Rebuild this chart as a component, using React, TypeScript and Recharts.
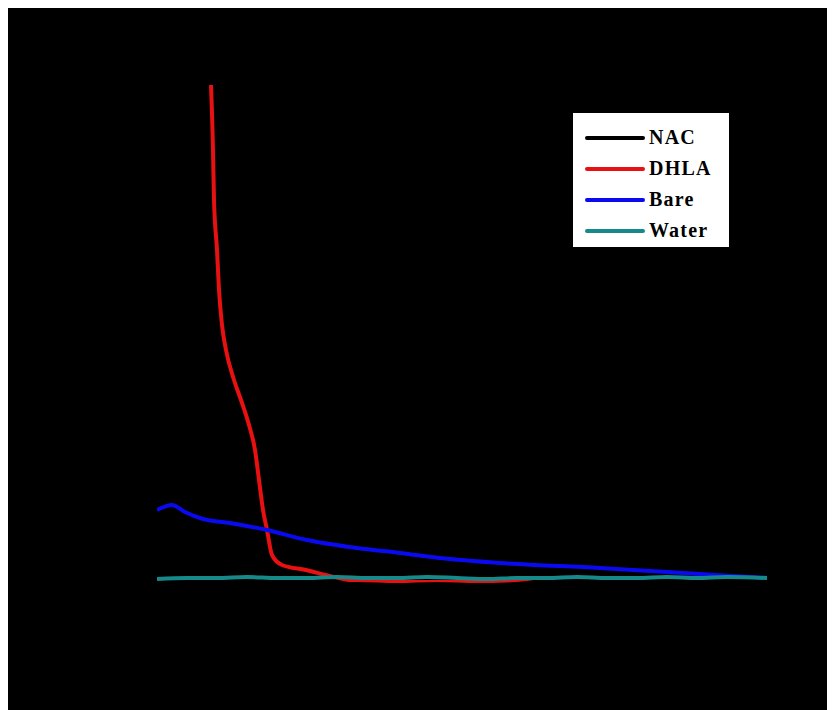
import React from "react";
import { LineChart, Line, XAxis, YAxis } from "recharts";

const seriesNames = ["NAC", "DHLA", "Bare", "Water"];
const seriesColors = ["#000000", "#e81010", "#0a0af0", "#168a8a"];
const drawOrder = [1, 0, 2, 3];

const nacX = [300, 340, 380, 420, 460, 500, 540, 580, 620, 650, 670, 685, 700, 730, 760, 790, 820, 850, 880, 910];
const nacY = [0.54, 0.54, 0.55, 0.54, 0.54, 0.55, 0.54, 0.55, 0.54, 0.545, 0.56, 0.58, 0.58, 0.58, 0.585, 0.585, 0.59, 0.59, 0.59, 0.59];

const dhlaX = [354, 356, 357, 360, 362, 365, 369, 377, 384, 392, 398, 402, 406, 410, 415, 425, 449, 469, 492, 542, 600, 700, 800, 910];
const dhlaY = [5.55, 4.9, 4.4, 3.9, 3.5, 3.15, 2.9, 2.6, 2.4, 2.15, 1.9, 1.6, 1.3, 1.1, 0.85, 0.75, 0.7, 0.65, 0.6, 0.58, 0.58, 0.58, 0.59, 0.59];

const bareX = [300, 315, 328, 346, 373, 410, 450, 500, 543, 583, 643, 743, 810, 876, 910];
const bareY = [1.3, 1.35, 1.28, 1.21, 1.17, 1.1, 1.0, 0.92, 0.87, 0.82, 0.77, 0.72, 0.68, 0.64, 0.62];

const waterX = [300, 330, 360, 390, 420, 450, 480, 510, 540, 570, 600, 630, 660, 690, 720, 750, 780, 810, 840, 870, 910];
const waterY = [0.61, 0.62, 0.62, 0.63, 0.62, 0.62, 0.63, 0.62, 0.62, 0.63, 0.62, 0.61, 0.62, 0.62, 0.63, 0.62, 0.62, 0.63, 0.62, 0.63, 0.62];

const toData = (xs: number[], ys: number[]) => xs.map((x, i) => ({ x, y: ys[i] }));

const seriesData = [
  toData(nacX, nacY),
  toData(dhlaX, dhlaY),
  toData(bareX, bareY),
  toData(waterX, waterY),
];

const LegendBox = () => (
  <div
    style={{
      position: "absolute",
      left: 565,
      top: 105,
      width: 156,
      height: 134,
      background: "#ffffff",
      boxSizing: "border-box",
      paddingTop: 9,
      fontFamily: "'Liberation Serif', 'Times New Roman', serif",
      fontWeight: "bold",
      fontSize: 20,
      letterSpacing: 1.2,
      color: "#000",
    }}
  >
    {seriesNames.map((n, i) => (
      <div key={n} style={{ height: 31, display: "flex", alignItems: "center" }}>
        <div
          style={{
            marginLeft: 12,
            width: 60,
            height: 4,
            borderRadius: 2,
            background: seriesColors[i],
          }}
        />
        <span style={{ marginLeft: 4, lineHeight: "31px" }}>{n}</span>
      </div>
    ))}
  </div>
);

export default function App() {
  return (
    <div style={{ position: "relative", width: 823, height: 702, background: "#000000" }}>
      <LineChart
        width={823}
        height={702}
        margin={{ top: 52, right: 64, bottom: 70, left: 149 }}
      >
        <XAxis type="number" dataKey="x" domain={[300, 910]} hide allowDataOverflow />
        <YAxis type="number" dataKey="y" domain={[0, 5.8]} hide allowDataOverflow />
        {drawOrder.map((i) => (
          <Line
            key={seriesNames[i]}
            name={seriesNames[i]}
            data={seriesData[i]}
            dataKey="y"
            type="monotone"
            stroke={seriesColors[i]}
            strokeWidth={i === 0 ? 6 : 4}
            dot={false}
            isAnimationActive={false}
          />
        ))}
      </LineChart>
      <LegendBox />
    </div>
  );
}
